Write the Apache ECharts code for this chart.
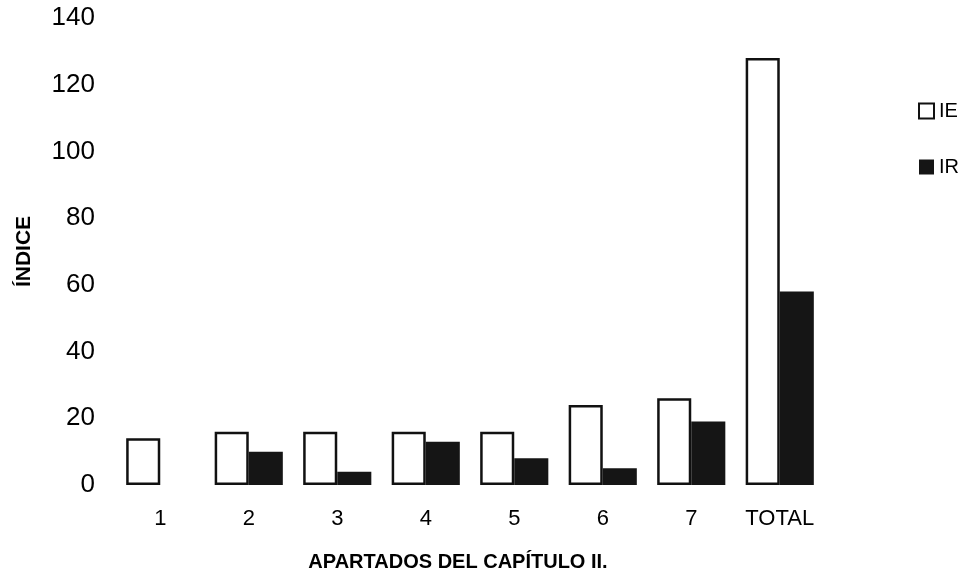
<!DOCTYPE html>
<html>
<head>
<meta charset="utf-8">
<script src="https://cdn.jsdelivr.net/npm/echarts@6/dist/echarts.min.js"></script>
<style>
  html, body { margin: 0; padding: 0; background: #fff; }
  #chart { width: 958px; height: 577px; }
</style>
</head>
<body>
<div id="chart"></div>
<script>
// Apartados del capítulo II y sus índices
const categories = ['1', '2', '3', '4', '5', '6', '7', 'TOTAL'];
const ieValues = [14, 16, 16, 16, 16, 24, 26, 128];
const irValues = [0, 10, 4, 13, 8, 5, 19, 58];
const yTicks = { min: 0, max: 140, interval: 20 };

const font = 'Liberation Sans, Arial, sans-serif';
const chart = echarts.init(document.getElementById('chart'));

chart.setOption({
  animation: false,
  backgroundColor: '#ffffff',
  grid: { left: 116, right: 134, top: 18, bottom: 86, containLabel: false },
  legend: {
    orient: 'vertical',
    left: 913,
    top: 96,
    itemGap: 36,
    itemWidth: 15,
    itemHeight: 15,
    icon: 'rect',
    textStyle: { fontFamily: font, fontSize: 20, color: '#000' },
    data: ['IE', 'IR']
  },
  xAxis: {
    type: 'category',
    data: categories,
    axisLine: { show: false },
    axisTick: { show: false },
    axisLabel: { fontFamily: font, fontSize: 22, color: '#000', margin: 23, interval: 0 },
    name: 'APARTADOS DEL CAPÍTULO II.',
    nameLocation: 'middle',
    nameGap: 67,
    nameTextStyle: { fontFamily: font, fontSize: 20, fontWeight: 'bold', color: '#000', padding: [0, 24, 0, 0] }
  },
  yAxis: {
    type: 'value',
    min: yTicks.min,
    max: yTicks.max,
    interval: yTicks.interval,
    axisLine: { show: false },
    axisTick: { show: false },
    splitLine: { show: false },
    axisLabel: { fontFamily: font, fontSize: 26, color: '#000', margin: 21 },
    name: 'ÍNDICE',
    nameLocation: 'middle',
    nameGap: 81,
    nameRotate: 90,
    nameTextStyle: { fontFamily: font, fontSize: 21, fontWeight: 'bold', color: '#000' }
  },
  series: [
    {
      name: 'IE',
      type: 'bar',
      data: ieValues,
      barGap: '0%',
      barCategoryGap: '23%',
      itemStyle: { color: '#ffffff', borderColor: '#111111', borderWidth: 2.5 }
    },
    {
      name: 'IR',
      type: 'bar',
      data: irValues,
      itemStyle: { color: '#151515', borderColor: '#151515', borderWidth: 0 }
    }
  ]
});
</script>
</body>
</html>
